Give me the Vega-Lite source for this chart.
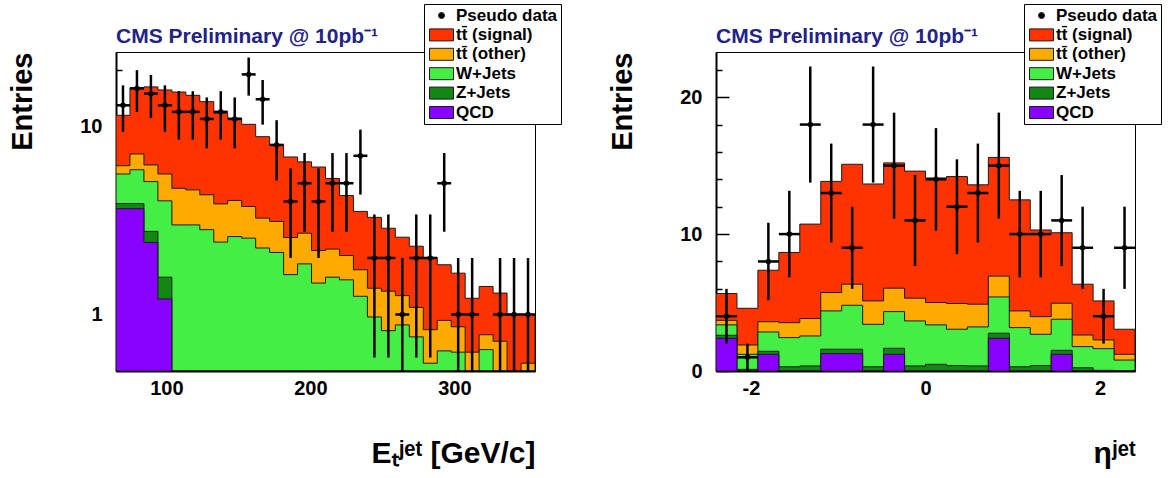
{
  "$schema": "https://vega.github.io/schema/vega-lite/v6.json",
  "background": "white",
  "padding": {"left": 8, "top": 3, "right": 5, "bottom": 5},
  "spacing": 46,
  "datasets": {
    "et": [
      {"x0": 65, "x1": 74.7, "c": 69.85, "s": 11.5, "o": 6.2, "w": 5.6, "z": 3.9, "q": 3.66, "n": 13, "elo": 9.39, "ehi": 16.61},
      {"x0": 74.7, "x1": 84.4, "c": 79.55, "s": 16.1, "o": 7.16, "w": 5.9, "z": 3.9, "q": 3.66, "n": 16, "elo": 12, "ehi": 20},
      {"x0": 84.4, "x1": 94.1, "c": 89.25, "s": 16.3, "o": 6.26, "w": 5.1, "z": 2.77, "q": 2.42, "n": 15, "elo": 11.13, "ehi": 18.87},
      {"x0": 94.1, "x1": 103.8, "c": 98.95, "s": 15.7, "o": 5.6, "w": 4.03, "z": 1.58, "q": 1.21, "n": 13, "elo": 9.39, "ehi": 16.61},
      {"x0": 103.8, "x1": 113.5, "c": 108.65, "s": 15.3, "o": 4.7, "w": 3.0, "z": 0.1, "q": 0.05, "n": 12, "elo": 8.54, "ehi": 15.46},
      {"x0": 113.5, "x1": 123.2, "c": 118.35, "s": 14.7, "o": 4.61, "w": 3.0, "z": 0.1, "q": 0.05, "n": 12, "elo": 8.54, "ehi": 15.46},
      {"x0": 123.2, "x1": 132.9, "c": 128.05, "s": 13.6, "o": 4.34, "w": 2.83, "z": 0.1, "q": 0.05, "n": 11, "elo": 7.68, "ehi": 14.32},
      {"x0": 132.9, "x1": 142.6, "c": 137.75, "s": 11.8, "o": 3.88, "w": 2.43, "z": 0.1, "q": 0.05, "n": 12, "elo": 8.54, "ehi": 15.46},
      {"x0": 142.6, "x1": 152.3, "c": 147.45, "s": 11.1, "o": 4.05, "w": 2.6, "z": 0.1, "q": 0.05, "n": 11, "elo": 7.68, "ehi": 14.32},
      {"x0": 152.3, "x1": 162, "c": 157.15, "s": 10.3, "o": 3.76, "w": 2.55, "z": 0.1, "q": 0.05, "n": 19, "elo": 14.64, "ehi": 23.36},
      {"x0": 162, "x1": 171.7, "c": 166.85, "s": 8.85, "o": 3.26, "w": 2.26, "z": 0.1, "q": 0.05, "n": 14, "elo": 10.26, "ehi": 17.74},
      {"x0": 171.7, "x1": 181.4, "c": 176.55, "s": 8.0, "o": 3.13, "w": 2.14, "z": 0.1, "q": 0.05, "n": 8, "elo": 5.17, "ehi": 10.83},
      {"x0": 181.4, "x1": 191.1, "c": 186.25, "s": 6.9, "o": 2.57, "w": 1.63, "z": 0.1, "q": 0.05, "n": 4, "elo": 2, "ehi": 6},
      {"x0": 191.1, "x1": 200.8, "c": 195.95, "s": 6.5, "o": 2.71, "w": 1.86, "z": 0.1, "q": 0.05, "n": 5, "elo": 2.76, "ehi": 7.24},
      {"x0": 200.8, "x1": 210.5, "c": 205.65, "s": 6.1, "o": 2.19, "w": 1.47, "z": 0.1, "q": 0.05, "n": 4, "elo": 2, "ehi": 6},
      {"x0": 210.5, "x1": 220.2, "c": 215.35, "s": 5.3, "o": 2.23, "w": 1.58, "z": 0.1, "q": 0.05, "n": 5, "elo": 2.76, "ehi": 7.24},
      {"x0": 220.2, "x1": 229.9, "c": 225.05, "s": 4.3, "o": 2.06, "w": 1.53, "z": 0.1, "q": 0.05, "n": 5, "elo": 2.76, "ehi": 7.24},
      {"x0": 229.9, "x1": 239.6, "c": 234.75, "s": 3.54, "o": 1.73, "w": 1.25, "z": 0.1, "q": 0.05, "n": 7, "elo": 4.35, "ehi": 9.65},
      {"x0": 239.6, "x1": 249.3, "c": 244.45, "s": 3.29, "o": 1.38, "w": 0.97, "z": 0.1, "q": 0.05, "n": 2, "elo": 0.59, "ehi": 3.41},
      {"x0": 249.3, "x1": 259, "c": 254.15, "s": 2.88, "o": 1.33, "w": 0.82, "z": 0.1, "q": 0.05, "n": 2, "elo": 0.59, "ehi": 3.41},
      {"x0": 259, "x1": 268.7, "c": 263.85, "s": 2.58, "o": 1.26, "w": 0.88, "z": 0.1, "q": 0.05, "n": 1, "elo": 0.01, "ehi": 2},
      {"x0": 268.7, "x1": 278.4, "c": 273.55, "s": 2.31, "o": 1.09, "w": 0.76, "z": 0.1, "q": 0.05, "n": 2, "elo": 0.59, "ehi": 3.41},
      {"x0": 278.4, "x1": 288.1, "c": 283.25, "s": 2.01, "o": 0.83, "w": 0.55, "z": 0.1, "q": 0.05, "n": 2, "elo": 0.59, "ehi": 3.41},
      {"x0": 288.1, "x1": 297.8, "c": 292.95, "s": 1.84, "o": 0.93, "w": 0.64, "z": 0.1, "q": 0.05, "n": 5, "elo": 2.76, "ehi": 7.24},
      {"x0": 297.8, "x1": 307.5, "c": 302.65, "s": 1.66, "o": 0.86, "w": 0.63, "z": 0.1, "q": 0.05, "n": 1, "elo": 0.01, "ehi": 2},
      {"x0": 307.5, "x1": 317.2, "c": 312.35, "s": 1.22, "o": 0.63, "w": 0.45, "z": 0.1, "q": 0.05, "n": 1, "elo": 0.01, "ehi": 2},
      {"x0": 317.2, "x1": 326.9, "c": 322.05, "s": 1.41, "o": 0.78, "w": 0.65, "z": 0.1, "q": 0.05, "n": 0, "elo": 0.01, "ehi": 0.01},
      {"x0": 326.9, "x1": 336.6, "c": 331.75, "s": 1.3, "o": 0.72, "w": 0.4, "z": 0.1, "q": 0.05, "n": 1, "elo": 0.01, "ehi": 2},
      {"x0": 336.6, "x1": 346.3, "c": 341.45, "s": 1.0, "o": 0.45, "w": 0.3, "z": 0.1, "q": 0.05, "n": 1, "elo": 0.01, "ehi": 2},
      {"x0": 346.3, "x1": 356, "c": 351.15, "s": 1.0, "o": 0.55, "w": 0.3, "z": 0.1, "q": 0.05, "n": 1, "elo": 0.01, "ehi": 2}
    ],
    "eta": [
      {"x0": -2.4, "x1": -2.16, "c": -2.28, "s": 5.66, "o": 3.7, "w": 3.37, "z": 2.61, "q": 2.39, "n": 4, "elo": 2, "ehi": 6},
      {"x0": -2.16, "x1": -1.92, "c": -2.04, "s": 4.58, "o": 1.9, "w": 1.22, "z": 0.12, "q": 0, "n": 1, "elo": 0, "ehi": 2},
      {"x0": -1.92, "x1": -1.68, "c": -1.8, "s": 7.36, "o": 3.6, "w": 2.85, "z": 1.44, "q": 1.22, "n": 8, "elo": 5.17, "ehi": 10.83},
      {"x0": -1.68, "x1": -1.44, "c": -1.56, "s": 8.66, "o": 3.53, "w": 2.44, "z": 0.31, "q": 0, "n": 10, "elo": 6.84, "ehi": 13.16},
      {"x0": -1.44, "x1": -1.2, "c": -1.32, "s": 10.73, "o": 3.83, "w": 2.56, "z": 0.37, "q": 0, "n": 18, "elo": 13.76, "ehi": 22.24},
      {"x0": -1.2, "x1": -0.96, "c": -1.08, "s": 13.85, "o": 5.73, "w": 4.39, "z": 1.59, "q": 1.27, "n": 13, "elo": 9.39, "ehi": 16.61},
      {"x0": -0.96, "x1": -0.72, "c": -0.84, "s": 15.1, "o": 6.34, "w": 4.8, "z": 1.59, "q": 1.27, "n": 9, "elo": 6, "ehi": 12},
      {"x0": -0.72, "x1": -0.48, "c": -0.6, "s": 13.66, "o": 5.12, "w": 3.41, "z": 0.31, "q": 0, "n": 18, "elo": 13.76, "ehi": 22.24},
      {"x0": -0.48, "x1": -0.24, "c": -0.36, "s": 15.2, "o": 6.05, "w": 4.34, "z": 1.66, "q": 1.22, "n": 15, "elo": 11.13, "ehi": 18.87},
      {"x0": -0.24, "x1": 0, "c": -0.12, "s": 14.6, "o": 5.32, "w": 3.66, "z": 0.37, "q": 0, "n": 11, "elo": 7.68, "ehi": 14.32},
      {"x0": 0, "x1": 0.24, "c": 0.12, "s": 14.1, "o": 5.0, "w": 3.37, "z": 0.49, "q": 0, "n": 14, "elo": 10.26, "ehi": 17.74},
      {"x0": 0.24, "x1": 0.48, "c": 0.36, "s": 14.2, "o": 4.93, "w": 3.05, "z": 0.4, "q": 0, "n": 12, "elo": 8.54, "ehi": 15.46},
      {"x0": 0.48, "x1": 0.72, "c": 0.6, "s": 13.6, "o": 4.88, "w": 3.22, "z": 0.37, "q": 0, "n": 13, "elo": 9.39, "ehi": 16.61},
      {"x0": 0.72, "x1": 0.96, "c": 0.84, "s": 15.6, "o": 6.93, "w": 5.41, "z": 2.76, "q": 2.39, "n": 15, "elo": 11.13, "ehi": 18.87},
      {"x0": 0.96, "x1": 1.2, "c": 1.08, "s": 12.5, "o": 4.39, "w": 3.17, "z": 0.31, "q": 0, "n": 10, "elo": 6.84, "ehi": 13.16},
      {"x0": 1.2, "x1": 1.44, "c": 1.32, "s": 10.3, "o": 3.97, "w": 2.68, "z": 0.4, "q": 0, "n": 10, "elo": 6.84, "ehi": 13.16},
      {"x0": 1.44, "x1": 1.68, "c": 1.56, "s": 10.1, "o": 4.95, "w": 3.78, "z": 1.51, "q": 1.22, "n": 11, "elo": 7.68, "ehi": 14.32},
      {"x0": 1.68, "x1": 1.92, "c": 1.8, "s": 6.34, "o": 2.63, "w": 1.78, "z": 0.24, "q": 0, "n": 9, "elo": 6, "ehi": 12},
      {"x0": 1.92, "x1": 2.16, "c": 2.04, "s": 5.12, "o": 2.27, "w": 1.63, "z": 0.05, "q": 0, "n": 4, "elo": 2, "ehi": 6},
      {"x0": 2.16, "x1": 2.4, "c": 2.28, "s": 3.05, "o": 1.22, "w": 0.8, "z": 0.03, "q": 0, "n": 9, "elo": 6, "ehi": 12}
    ]
  },
  "resolve": {"scale": {"color": "independent"}, "legend": {"color": "independent"}},
  "hconcat": [
    {
      "width": 419,
      "height": 319,
      "title": {"text": "CMS Preliminary @ 10pb⁻¹", "frame": "group", "offset": -43},
      "data": {"name": "et"},
      "resolve": {"axis": {"x": "independent", "y": "independent"}},
      "layer": [
        {
          "transform": [{"fold": ["x0", "x1"], "as": ["edge", "x"]}],
          "mark": {"type": "area", "clip": true, "stroke": "#1a1a1a", "strokeWidth": 1, "opacity": 1},
          "encoding": {
            "x": {"field": "x", "type": "quantitative", "scale": {"domain": [65, 356], "nice": false, "zero": false},
                  "axis": {"orient": "bottom", "values": [100, 200, 300], "tickSize": -9, "labelPadding": 16, "title": "Eₜʲᵉᵗ [GeV/c]", "titleFontSize": 30, "titleAnchor": "end", "titlePadding": 40}},
            "y": {"field": "s", "type": "quantitative", "stack": null, "scale": {"type": "log", "domain": [0.5, 25], "nice": false},
                  "axis": {"orient": "left", "values": [1, 10], "format": "d", "tickSize": -13, "labelPadding": 27, "title": "Entries", "titleFontSize": 29, "titleAnchor": "end", "titlePadding": 42}},
            "y2": {"datum": 0.5},
            "order": [{"field": "x", "type": "quantitative"}, {"field": "edge", "type": "nominal", "sort": "descending"}],
            "color": {"datum": "tt̄ (signal)", "type": "nominal",
                      "scale": {"domain": ["Pseudo data", "tt̄ (signal)", "tt̄ (other)", "W+Jets", "Z+Jets", "QCD"], "range": ["black", "#ff3300", "#ffaa00", "#44ee44", "#118811", "#8800ff"]},
                      "legend": {"orient": "none", "legendX": 308, "legendY": -48, "title": null, "strokeColor": "black", "fillColor": "white", "padding": 3, "labelFontSize": 17, "labelFontWeight": "bold", "labelFont": "Liberation Sans", "labelColor": "black", "labelOffset": 6, "symbolOffset": 6, "rowPadding": 1.4, "symbolSize": 256, "symbolType": "M-1.5,-0.75L1.5,-0.75L1.5,0.75L-1.5,0.75Z", "symbolStrokeColor": "#1a1a1a", "symbolStrokeWidth": 1, "symbolOpacity": 1,
                                 "encode": {"symbols": {"update": {"shape": {"signal": "datum.value === 'Pseudo data' ? 'circle' : 'M-1.5,-0.75L1.5,-0.75L1.5,0.75L-1.5,0.75Z'"}, "size": {"signal": "datum.value === 'Pseudo data' ? 36 : 256"}}}}}}
          }
        },
        {
          "transform": [{"fold": ["x0", "x1"], "as": ["edge", "x"]}],
          "mark": {"type": "area", "clip": true, "stroke": "#1a1a1a", "strokeWidth": 1, "opacity": 1},
          "encoding": {
            "x": {"field": "x", "type": "quantitative",
                  "axis": {"orient": "bottom", "values": [80, 120, 140, 160, 180, 220, 240, 260, 280, 320, 340], "tickSize": -5, "labels": false, "domain": false, "title": null}},
            "y": {"field": "o", "type": "quantitative", "stack": null,
                  "axis": {"orient": "left", "values": [0.6, 0.7, 0.8, 0.9, 2, 3, 4, 5, 6, 7, 8, 9, 20], "tickSize": -6, "labels": false, "domain": false, "title": null}},
            "y2": {"datum": 0.5},
            "order": [{"field": "x", "type": "quantitative"}, {"field": "edge", "type": "nominal", "sort": "descending"}],
            "color": {"datum": "tt̄ (other)", "type": "nominal"}
          }
        },
        {
          "transform": [{"fold": ["x0", "x1"], "as": ["edge", "x"]}],
          "mark": {"type": "area", "clip": true, "stroke": "#1a1a1a", "strokeWidth": 1, "opacity": 1},
          "encoding": {
            "x": {"field": "x", "type": "quantitative", "axis": null},
            "y": {"field": "w", "type": "quantitative", "stack": null, "axis": null},
            "y2": {"datum": 0.5},
            "order": [{"field": "x", "type": "quantitative"}, {"field": "edge", "type": "nominal", "sort": "descending"}],
            "color": {"datum": "W+Jets", "type": "nominal"}
          }
        },
        {
          "transform": [{"fold": ["x0", "x1"], "as": ["edge", "x"]}],
          "mark": {"type": "area", "clip": true, "stroke": "#1a1a1a", "strokeWidth": 1, "opacity": 1},
          "encoding": {
            "x": {"field": "x", "type": "quantitative", "axis": null},
            "y": {"field": "z", "type": "quantitative", "stack": null, "axis": null},
            "y2": {"datum": 0.5},
            "order": [{"field": "x", "type": "quantitative"}, {"field": "edge", "type": "nominal", "sort": "descending"}],
            "color": {"datum": "Z+Jets", "type": "nominal"}
          }
        },
        {
          "transform": [{"fold": ["x0", "x1"], "as": ["edge", "x"]}],
          "mark": {"type": "area", "clip": true, "stroke": "#1a1a1a", "strokeWidth": 1, "opacity": 1},
          "encoding": {
            "x": {"field": "x", "type": "quantitative", "axis": null},
            "y": {"field": "q", "type": "quantitative", "stack": null, "axis": null},
            "y2": {"datum": 0.5},
            "order": [{"field": "x", "type": "quantitative"}, {"field": "edge", "type": "nominal", "sort": "descending"}],
            "color": {"datum": "QCD", "type": "nominal"}
          }
        },
        {
          "transform": [{"filter": "datum.n > 0"}],
          "mark": {"type": "rule", "clip": true, "strokeWidth": 2.5, "color": "black"},
          "encoding": {
            "x": {"field": "c", "type": "quantitative", "axis": null},
            "y": {"field": "elo", "type": "quantitative", "axis": null},
            "y2": {"field": "ehi"}
          }
        },
        {
          "transform": [{"filter": "datum.n > 0"}],
          "mark": {"type": "rule", "clip": true, "strokeWidth": 2.5, "color": "black"},
          "encoding": {
            "x": {"field": "x0", "type": "quantitative", "axis": null},
            "x2": {"field": "x1"},
            "y": {"field": "n", "type": "quantitative", "axis": null}
          }
        },
        {
          "transform": [{"filter": "datum.n > 0"}],
          "mark": {"type": "point", "filled": true, "size": 30, "opacity": 1, "clip": true},
          "encoding": {
            "x": {"field": "c", "type": "quantitative", "axis": null},
            "y": {"field": "n", "type": "quantitative", "axis": null},
            "color": {"datum": "Pseudo data", "type": "nominal"}
          }
        }
      ]
    },
    {
      "width": 419,
      "height": 319,
      "title": {"text": "CMS Preliminary @ 10pb⁻¹", "frame": "group", "offset": -43},
      "data": {"name": "eta"},
      "resolve": {"axis": {"x": "independent", "y": "independent"}},
      "layer": [
        {
          "transform": [{"fold": ["x0", "x1"], "as": ["edge", "x"]}],
          "mark": {"type": "area", "clip": true, "stroke": "#1a1a1a", "strokeWidth": 1, "opacity": 1},
          "encoding": {
            "x": {"field": "x", "type": "quantitative", "scale": {"domain": [-2.4, 2.4], "nice": false, "zero": false},
                  "axis": {"orient": "bottom", "values": [-2, 0, 2], "labelExpr": "'' + datum.value", "tickSize": -9, "labelPadding": 16, "title": "ηʲᵉᵗ", "titleFontSize": 30, "titleAnchor": "end", "titlePadding": 40}},
            "y": {"field": "s", "type": "quantitative", "stack": null, "scale": {"domain": [0, 23.3], "nice": false, "zero": false},
                  "axis": {"orient": "left", "values": [0, 10, 20], "format": "d", "tickSize": -13, "labelPadding": 27, "title": "Entries", "titleFontSize": 29, "titleAnchor": "end", "titlePadding": 42}},
            "y2": {"datum": 0},
            "order": [{"field": "x", "type": "quantitative"}, {"field": "edge", "type": "nominal", "sort": "descending"}],
            "color": {"datum": "tt̄ (signal)", "type": "nominal",
                      "scale": {"domain": ["Pseudo data", "tt̄ (signal)", "tt̄ (other)", "W+Jets", "Z+Jets", "QCD"], "range": ["black", "#ff3300", "#ffaa00", "#44ee44", "#118811", "#8800ff"]},
                      "legend": {"orient": "none", "legendX": 308, "legendY": -48, "title": null, "strokeColor": "black", "fillColor": "white", "padding": 3, "labelFontSize": 17, "labelFontWeight": "bold", "labelFont": "Liberation Sans", "labelColor": "black", "labelOffset": 6, "symbolOffset": 6, "rowPadding": 1.4, "symbolSize": 256, "symbolType": "M-1.5,-0.75L1.5,-0.75L1.5,0.75L-1.5,0.75Z", "symbolStrokeColor": "#1a1a1a", "symbolStrokeWidth": 1, "symbolOpacity": 1,
                                 "encode": {"symbols": {"update": {"shape": {"signal": "datum.value === 'Pseudo data' ? 'circle' : 'M-1.5,-0.75L1.5,-0.75L1.5,0.75L-1.5,0.75Z'"}, "size": {"signal": "datum.value === 'Pseudo data' ? 36 : 256"}}}}}}
          }
        },
        {
          "transform": [{"fold": ["x0", "x1"], "as": ["edge", "x"]}],
          "mark": {"type": "area", "clip": true, "stroke": "#1a1a1a", "strokeWidth": 1, "opacity": 1},
          "encoding": {
            "x": {"field": "x", "type": "quantitative",
                  "axis": {"orient": "bottom", "values": [-1.5, -1, -0.5, 0.5, 1, 1.5], "tickSize": -5, "labels": false, "domain": false, "title": null}},
            "y": {"field": "o", "type": "quantitative", "stack": null,
                  "axis": {"orient": "left", "values": [2, 4, 6, 8, 12, 14, 16, 18, 22], "tickSize": -6, "labels": false, "domain": false, "title": null}},
            "y2": {"datum": 0},
            "order": [{"field": "x", "type": "quantitative"}, {"field": "edge", "type": "nominal", "sort": "descending"}],
            "color": {"datum": "tt̄ (other)", "type": "nominal"}
          }
        },
        {
          "transform": [{"fold": ["x0", "x1"], "as": ["edge", "x"]}],
          "mark": {"type": "area", "clip": true, "stroke": "#1a1a1a", "strokeWidth": 1, "opacity": 1},
          "encoding": {
            "x": {"field": "x", "type": "quantitative", "axis": null},
            "y": {"field": "w", "type": "quantitative", "stack": null, "axis": null},
            "y2": {"datum": 0},
            "order": [{"field": "x", "type": "quantitative"}, {"field": "edge", "type": "nominal", "sort": "descending"}],
            "color": {"datum": "W+Jets", "type": "nominal"}
          }
        },
        {
          "transform": [{"fold": ["x0", "x1"], "as": ["edge", "x"]}],
          "mark": {"type": "area", "clip": true, "stroke": "#1a1a1a", "strokeWidth": 1, "opacity": 1},
          "encoding": {
            "x": {"field": "x", "type": "quantitative", "axis": null},
            "y": {"field": "z", "type": "quantitative", "stack": null, "axis": null},
            "y2": {"datum": 0},
            "order": [{"field": "x", "type": "quantitative"}, {"field": "edge", "type": "nominal", "sort": "descending"}],
            "color": {"datum": "Z+Jets", "type": "nominal"}
          }
        },
        {
          "transform": [{"fold": ["x0", "x1"], "as": ["edge", "x"]}],
          "mark": {"type": "area", "clip": true, "stroke": "#1a1a1a", "strokeWidth": 1, "opacity": 1},
          "encoding": {
            "x": {"field": "x", "type": "quantitative", "axis": null},
            "y": {"field": "q", "type": "quantitative", "stack": null, "axis": null},
            "y2": {"datum": 0},
            "order": [{"field": "x", "type": "quantitative"}, {"field": "edge", "type": "nominal", "sort": "descending"}],
            "color": {"datum": "QCD", "type": "nominal"}
          }
        },
        {
          "mark": {"type": "rule", "clip": true, "strokeWidth": 2.5, "color": "black"},
          "encoding": {
            "x": {"field": "c", "type": "quantitative", "axis": null},
            "y": {"field": "elo", "type": "quantitative", "axis": null},
            "y2": {"field": "ehi"}
          }
        },
        {
          "mark": {"type": "rule", "clip": true, "strokeWidth": 2.5, "color": "black"},
          "encoding": {
            "x": {"field": "x0", "type": "quantitative", "axis": null},
            "x2": {"field": "x1"},
            "y": {"field": "n", "type": "quantitative", "axis": null}
          }
        },
        {
          "mark": {"type": "point", "filled": true, "size": 30, "opacity": 1, "clip": true},
          "encoding": {
            "x": {"field": "c", "type": "quantitative", "axis": null},
            "y": {"field": "n", "type": "quantitative", "axis": null},
            "color": {"datum": "Pseudo data", "type": "nominal"}
          }
        }
      ]
    }
  ],
  "config": {
    "font": "Liberation Sans",
    "view": {"stroke": "black", "strokeWidth": 1},
    "axis": {"grid": false, "domainColor": "black", "domainWidth": 2, "tickColor": "black", "tickWidth": 1.5, "labelFont": "Liberation Sans", "labelFontWeight": "bold", "labelFontSize": 20, "labelColor": "black", "titleFont": "Liberation Sans", "titleFontWeight": "bold", "titleColor": "black", "labelFlush": false, "labelOverlap": false},
    "title": {"font": "Liberation Sans", "fontWeight": "bold", "fontSize": 21, "color": "#222288", "anchor": "start", "offset": 5}
  }
}
